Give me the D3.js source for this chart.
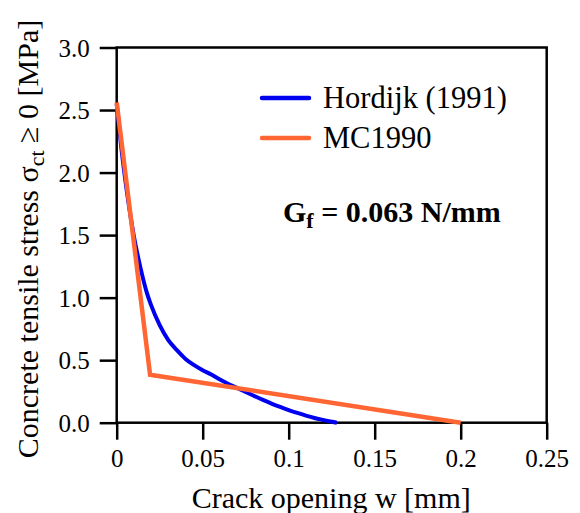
<!DOCTYPE html>
<html>
<head>
<meta charset="utf-8">
<script src="https://cdn.jsdelivr.net/npm/d3@7"></script>
</head>
<body style="margin:0;background:#fff">
<div id="graphicContainer"></div>
<script>

// crack opening w [mm] and stress [MPa]

var hordijkW = [0, 0.0025, 0.005, 0.0075, 0.01, 0.0125, 0.015, 0.0175, 0.02, 0.025, 0.03, 0.035, 0.04, 0.045, 0.05, 0.055, 0.06, 0.065, 0.07, 0.075, 0.08, 0.085, 0.09, 0.095, 0.1, 0.105, 0.11, 0.115, 0.12, 0.125, 0.128]
var hordijkS = [2.55, 2.22, 1.94, 1.70, 1.49, 1.32, 1.17, 1.04, 0.94, 0.78, 0.66, 0.58, 0.51, 0.46, 0.42, 0.385, 0.345, 0.31, 0.278, 0.245, 0.213, 0.182, 0.153, 0.126, 0.1, 0.078, 0.057, 0.038, 0.022, 0.007, 0]

var mcW = [0, 0.0194, 0.2]
var mcS = [2.56, 0.384, 0]

var xTicks = [0, 0.05, 0.1, 0.15, 0.2, 0.25]
var xTickLabels = ["0", "0.05", "0.1", "0.15", "0.2", "0.25"]
var yTicks = [0, 0.5, 1, 1.5, 2, 2.5, 3]

var seriesNames = ["Hordijk (1991)", "MC1990"]
var seriesColors = ["#0000f0", "#ff6633"]

var serif = "Liberation Serif"

function init() {

	var width = 580
	var height = 513
	var margin = {top: 47.5, right: 33.3, bottom: 90.3, left: 116.7}

	var svg = d3.select("#graphicContainer").append("svg")
				.attr("width", width)
				.attr("height", height)
				.attr("font-family", serif)

	var x = d3.scaleLinear()
		.domain([0, 0.25])
		.range([margin.left, width - margin.right])

	var y = d3.scaleLinear()
		.domain([0, 3])
		.range([height - margin.bottom, margin.top])

	// frame

	svg.append("rect")
		.attr("x", x(0))
		.attr("y", y(3))
		.attr("width", x(0.25) - x(0))
		.attr("height", y(0) - y(3))
		.attr("fill", "none")
		.attr("stroke", "#000")
		.attr("stroke-width", 2.5)

	// axes

	var xAxis = svg.append("g")
		.attr("transform", "translate(0," + y(0) + ")")
		.call(d3.axisBottom(x).tickValues(xTicks).tickFormat((d, i) => xTickLabels[i]).tickSize(17).tickPadding(9))

	var yAxis = svg.append("g")
		.attr("transform", "translate(" + x(0) + ",0)")
		.call(d3.axisLeft(y).tickValues(yTicks).tickFormat(d3.format(".1f")).tickSize(17).tickPadding(10))

	svg.selectAll(".domain").remove()
	xAxis.attr("font-family", serif).attr("font-size", 25)
	yAxis.attr("font-family", serif).attr("font-size", 25)
	svg.selectAll(".tick line").attr("stroke", "#000").attr("stroke-width", 2.5)
	svg.selectAll(".tick text").attr("fill", "#000")

	yAxis.selectAll(".tick text").attr("dy", "0.34em")
	xAxis.selectAll(".tick text").attr("dy", "0.72em")

	// lines

	var hordijk = hordijkW.map((w, i) => [w, hordijkS[i]])
	var mc = mcW.map((w, i) => [w, mcS[i]])

	var curve = d3.line()
		.x(d => x(d[0]))
		.y(d => y(d[1]))
		.curve(d3.curveMonotoneX)

	var straight = d3.line()
		.x(d => x(d[0]))
		.y(d => y(d[1]))

	svg.append("path")
		.attr("d", curve(hordijk))
		.attr("fill", "none")
		.attr("stroke", seriesColors[0])
		.attr("stroke-width", 4)

	svg.append("path")
		.attr("d", straight(mc))
		.attr("fill", "none")
		.attr("stroke", seriesColors[1])
		.attr("stroke-width", 4.5)
		.attr("stroke-linejoin", "miter")

	// legend

	var legend = svg.append("g")

	seriesNames.forEach(function(name, i) {
		var ly = 98 + i * 40
		legend.append("line")
			.attr("x1", 262)
			.attr("x2", 309)
			.attr("y1", ly)
			.attr("y2", ly)
			.attr("stroke", seriesColors[i])
			.attr("stroke-width", 4.5)
			.attr("stroke-linecap", "round")
		legend.append("text")
			.attr("x", 323)
			.attr("y", ly + 9.5)
			.attr("font-family", serif)
			.attr("font-size", 30.5)
			.text(name)
	})

	// fracture energy note

	var gf = svg.append("text")
		.attr("x", 283)
		.attr("y", 222)
		.attr("font-family", serif)
		.attr("font-size", 30)
		.attr("font-weight", "bold")

	gf.append("tspan").text("G")
	gf.append("tspan").attr("dy", 6).attr("font-size", 22).text("f")
	gf.append("tspan").attr("dy", -6).text(" = 0.063 N/mm")

	// axis titles

	svg.append("text")
		.attr("x", (x(0) + x(0.25)) / 2 - 0.5)
		.attr("y", 508)
		.attr("text-anchor", "middle")
		.attr("font-family", serif)
		.attr("font-size", 30)
		.text("Crack opening w [mm]")

	var yTitle = svg.append("text")
		.attr("transform", "translate(37.5,239) rotate(-90)")
		.attr("text-anchor", "middle")
		.attr("font-family", serif)
		.attr("font-size", 30)

	yTitle.append("tspan").text("Concrete tensile stress σ")
	yTitle.append("tspan").attr("dy", 6).attr("font-size", 22).text("ct")
	yTitle.append("tspan").attr("dy", -6).text(" ≥ 0 [MPa]")

}

init()

</script>
</body>
</html>
